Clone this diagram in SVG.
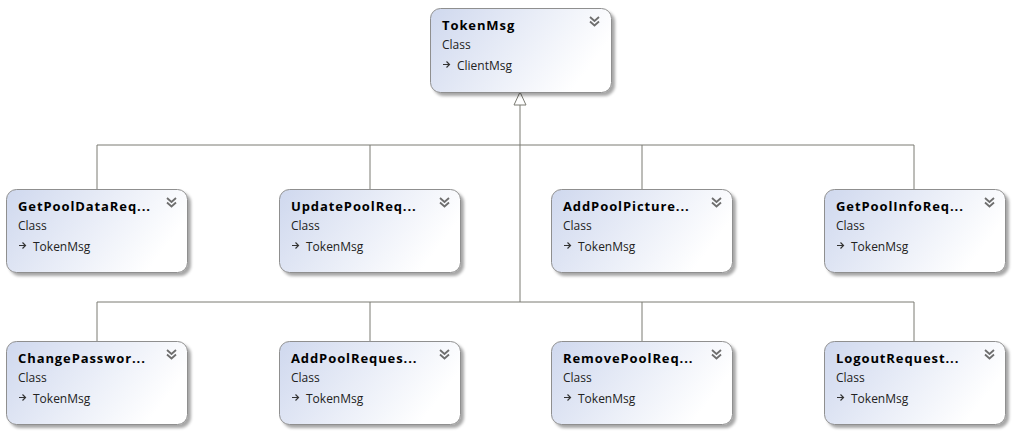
<svg xmlns="http://www.w3.org/2000/svg" width="1015" height="435" viewBox="0 0 1015 435">
<defs>
<linearGradient id="g" x1="0" y1="0" x2="1" y2="0.35">
<stop offset="0" stop-color="#cfd8ee"/>
<stop offset="1" stop-color="#ffffff"/>
</linearGradient>
<filter id="sh" x="-10%" y="-10%" width="130%" height="130%">
<feGaussianBlur in="SourceAlpha" stdDeviation="1.5"/>
<feOffset dx="3" dy="3"/>
<feComponentTransfer><feFuncA type="linear" slope="0.35"/></feComponentTransfer>
<feMerge><feMergeNode/><feMergeNode in="SourceGraphic"/></feMerge>
</filter>
<g id="chev">
<path d="M0,0 L4.5,4 L9,0 M0,4.5 L4.5,8.5 L9,4.5" fill="none" stroke="#6e6e6e" stroke-width="1.8"/>
</g>
<g id="inh">
<path d="M0,3.5 L6,3.5 M3.5,0.5 L6.5,3.5 L3.5,6.5" fill="none" stroke="#333" stroke-width="1.2"/>
</g>
</defs>
<style>
.box{fill:url(#g);stroke:#8f8f8f;stroke-width:1;filter:url(#sh)}
.t{font-family:"Open Sans","DejaVu Sans",sans-serif;font-weight:bold;font-size:13px;letter-spacing:0.9px;fill:#000}
.s{font-family:"Open Sans","DejaVu Sans",sans-serif;font-size:12px;fill:#222}
.c{fill:none;stroke:#7a7a72;stroke-width:1}
</style>
<rect width="1015" height="435" fill="#ffffff"/>
<g id="connectors">
<path class="c" d="M520,105 L520,302 M97,145 L914,145 M97,145 L97,190 M370,145 L370,190 M642,145 L642,190 M914,145 L914,190 M97,302 L914,302 M97,302 L97,342 M370,302 L370,342 M642,302 L642,342 M914,302 L914,342"/>
<path d="M520,92 L526,105 L514,105 Z" fill="#fff" stroke="#7a7a72" stroke-width="1"/>
</g>
<g id="TokenMsg">
<rect class="box" x="430.5" y="8.5" width="181" height="84" rx="10"/>
<text class="t" x="442" y="30">TokenMsg</text>
<use href="#chev" x="590" y="17"/>
<text class="s" x="442" y="49">Class</text>
<use href="#inh" x="443" y="61"/>
<text class="s" x="457" y="70">ClientMsg</text>
</g>
<g id="GetPoolDataRequest">
<rect class="box" x="6.5" y="189.5" width="181" height="83" rx="10"/>
<text class="t" x="18" y="211">GetPoolDataReq...</text>
<use href="#chev" x="167" y="198"/>
<text class="s" x="18" y="230">Class</text>
<use href="#inh" x="19" y="242"/>
<text class="s" x="33" y="251">TokenMsg</text>
</g>
<g id="UpdatePoolRequest">
<rect class="box" x="279.5" y="189.5" width="181" height="83" rx="10"/>
<text class="t" x="291" y="211">UpdatePoolReq...</text>
<use href="#chev" x="440" y="198"/>
<text class="s" x="291" y="230">Class</text>
<use href="#inh" x="292" y="242"/>
<text class="s" x="306" y="251">TokenMsg</text>
</g>
<g id="AddPoolPicture">
<rect class="box" x="551.5" y="189.5" width="181" height="83" rx="10"/>
<text class="t" x="563" y="211">AddPoolPicture...</text>
<use href="#chev" x="712" y="198"/>
<text class="s" x="563" y="230">Class</text>
<use href="#inh" x="564" y="242"/>
<text class="s" x="578" y="251">TokenMsg</text>
</g>
<g id="GetPoolInfoRequest">
<rect class="box" x="824.5" y="189.5" width="181" height="83" rx="10"/>
<text class="t" x="836" y="211">GetPoolInfoReq...</text>
<use href="#chev" x="985" y="198"/>
<text class="s" x="836" y="230">Class</text>
<use href="#inh" x="837" y="242"/>
<text class="s" x="851" y="251">TokenMsg</text>
</g>
<g id="ChangePassword">
<rect class="box" x="6.5" y="341.5" width="181" height="83" rx="10"/>
<text class="t" x="18" y="363">ChangePasswor...</text>
<use href="#chev" x="167" y="350"/>
<text class="s" x="18" y="382">Class</text>
<use href="#inh" x="19" y="394"/>
<text class="s" x="33" y="403">TokenMsg</text>
</g>
<g id="AddPoolRequest">
<rect class="box" x="279.5" y="341.5" width="181" height="83" rx="10"/>
<text class="t" x="291" y="363">AddPoolReques...</text>
<use href="#chev" x="440" y="350"/>
<text class="s" x="291" y="382">Class</text>
<use href="#inh" x="292" y="394"/>
<text class="s" x="306" y="403">TokenMsg</text>
</g>
<g id="RemovePoolRequest">
<rect class="box" x="551.5" y="341.5" width="181" height="83" rx="10"/>
<text class="t" x="563" y="363">RemovePoolReq...</text>
<use href="#chev" x="712" y="350"/>
<text class="s" x="563" y="382">Class</text>
<use href="#inh" x="564" y="394"/>
<text class="s" x="578" y="403">TokenMsg</text>
</g>
<g id="LogoutRequest">
<rect class="box" x="824.5" y="341.5" width="181" height="83" rx="10"/>
<text class="t" x="836" y="363">LogoutRequest...</text>
<use href="#chev" x="985" y="350"/>
<text class="s" x="836" y="382">Class</text>
<use href="#inh" x="837" y="394"/>
<text class="s" x="851" y="403">TokenMsg</text>
</g>
</svg>
